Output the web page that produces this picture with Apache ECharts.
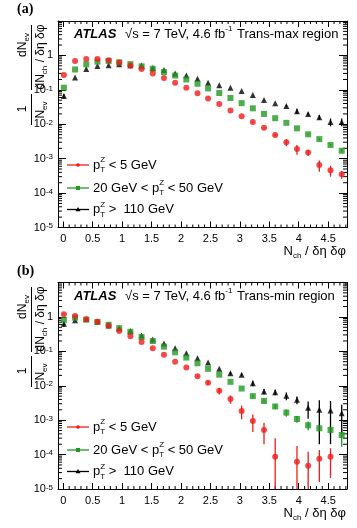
<!DOCTYPE html>
<html>
<head>
<meta charset="utf-8">
<script src="https://cdn.jsdelivr.net/npm/echarts@6/dist/echarts.min.js"></script>
<style>
  html, body { margin: 0; padding: 0; background: #fff; }
  #chart { width: 357px; height: 528px; }
</style>
</head>
<body>
<div id="chart"></div>
<script>
// N_ch / (delta eta delta phi) bin positions
const xValues = [0.01, 0.2, 0.39, 0.58, 0.77, 0.95, 1.14, 1.33, 1.52, 1.71, 1.9, 2.09, 2.28,
  2.46, 2.65, 2.84, 3.03, 3.22, 3.41, 3.6, 3.79, 3.97, 4.16, 4.35, 4.54, 4.73]

// (a) trans-max region
const maxLow = [0.27, 0.69, 0.79, 0.79, 0.72, 0.62, 0.50, 0.40, 0.30, 0.22, 0.16, 0.115, 0.079,
  0.056, 0.039, 0.025, 0.017, 0.0117, 0.0079, 0.0049, 0.0030, 0.0019, 0.0015, 0.00065, 0.00046, 0.00035]
const maxLowErr = [0, 0, 0, 0, 0, 0, 0, 0, 0, 0, 0, 0, 0,
  0, 0, 0, 0, 0.0004, 0.0005, 0.0005, 0.0007, 0.0006, 0.0003, 0.00023, 0.00016, 0.00009]
const maxMid = [0.115, 0.39, 0.55, 0.66, 0.69, 0.63, 0.56, 0.48, 0.41, 0.33, 0.26, 0.20, 0.15,
  0.11, 0.081, 0.058, 0.041, 0.029, 0.020, 0.015, 0.011, 0.0076, 0.0051, 0.0037, 0.0025, 0.0017]
const maxMidErr = [0, 0, 0, 0, 0, 0, 0, 0, 0, 0, 0, 0, 0,
  0, 0, 0, 0, 0, 0, 0, 0, 0, 0.0002, 0.0002, 0.0002, 0.0002]
const maxHigh = [0.066, 0.23, 0.40, 0.49, 0.52, 0.55, 0.52, 0.51, 0.43, 0.38, 0.30, 0.26, 0.21,
  0.16, 0.135, 0.115, 0.093, 0.071, 0.051, 0.041, 0.034, 0.024, 0.020, 0.016, 0.0117, 0.0117]
const maxHighErr = [0.01, 0, 0, 0, 0, 0, 0, 0, 0, 0, 0, 0, 0,
  0, 0, 0, 0, 0, 0, 0, 0.002, 0.004, 0.002, 0.0025, 0.003, 0.003]

// (b) trans-min region
const minLow = [1.2, 1.07, 0.85, 0.72, 0.55, 0.39, 0.275, 0.186, 0.123, 0.079, 0.050, 0.034, 0.019,
  0.0123, 0.0071, 0.0041, 0.00186, 0.00095, 0.00052, 0.000087, null, 0.000062, 0.000047, 0.000076, 0.000087, null]
const minLowErr = [0.06, 0.03, 0, 0, 0, 0, 0, 0, 0, 0, 0, 0, 0.001,
  0.0015, 0.0015, 0.0011, 0.0008, 0.0005, 0.00032, 0.00021, 0, 0.000116, 0.000073, 0.00006, 0.000066, 0]
const minMid = [0.82, 0.95, 0.83, 0.71, 0.59, 0.47, 0.37, 0.26, 0.20, 0.137, 0.094, 0.066, 0.045,
  0.031, 0.021, 0.013, 0.0083, 0.0050, 0.0036, 0.0025, 0.00166, 0.00108, 0.00071, 0.00058, 0.00052, 0.00037]
const minMidErr = [0, 0, 0, 0, 0, 0, 0, 0, 0, 0, 0, 0, 0,
  0, 0, 0, 0, 0.0004, 0.0004, 0.0004, 0.0004, 0.00024, 0.0002, 0.00013, 0.00015, 0.0002]
const minHigh = [0.63, 0.80, 0.87, 0.73, 0.56, 0.47, 0.39, 0.29, 0.22, 0.17, 0.123, 0.088, 0.063,
  0.047, 0.031, 0.023, 0.021, 0.0118, 0.0068, 0.0065, 0.0051, 0.0039, 0.0023, 0.0020, 0.0019, 0.0016]
const minHighErr = [0.12, 0, 0, 0, 0, 0, 0, 0, 0, 0, 0, 0, 0,
  0, 0, 0.002, 0.002, 0.0022, 0.0012, 0.0012, 0.0013, 0.0010, 0.0012, 0.0018, 0.0017, 0.0012]

const xMajorTicks = [0, 0.5, 1, 1.5, 2, 2.5, 3, 3.5, 4, 4.5]
const xMinorSteps = [0.1, 0.2, 0.3, 0.4]
const yDecades = [-5, -4, -3, -2, -1, 0]
const minorMantissas = [2, 3, 4, 5, 6, 7, 8, 9]

const RED = '#f21b1b'
const GREEN = '#1f9a1f'
const BLACK = '#000'
const FONT = 'Liberation Sans, Arial, sans-serif'
const X_MIN = -0.09
const X_MAX = 4.82
const Y_MIN = 1e-5
const Y_MAX = 10

const points = ys => xValues.map((x, i) => ys[i] == null ? null : [x, ys[i]]).filter(Boolean)
const bars = (ys, errs) => xValues.map((x, i) => (ys[i] == null || !errs[i]) ? null : [x, ys[i], errs[i]]).filter(Boolean)
const yMinorVals = yDecades.flatMap(d => minorMantissas.map(m => [1, m * Math.pow(10, d)]))
const xMinorVals = [-0.5, ...xMajorTicks].flatMap(t => xMinorSteps.map(s => t + s))
  .filter(v => v > X_MIN && v < X_MAX).map(v => [Math.round(v * 10) / 10, 1])

const errRender = color => (params, api) => {
  const cs = params.coordSys
  const x = api.value(0), y = api.value(1), e = api.value(2)
  const top = api.coord([x, y + e])
  const lo = y - e
  const bottom = lo > 0 ? api.coord([x, lo])[1] : cs.y + cs.height
  return {
    type: 'line',
    shape: { x1: top[0], y1: Math.max(top[1], cs.y), x2: top[0], y2: Math.min(bottom, cs.y + cs.height) },
    style: { stroke: color, lineWidth: 1.3 }
  }
}

const tickLine = (x1, y1, x2, y2) => ({ type: 'line', shape: { x1, y1, x2, y2 }, style: { stroke: '#000', lineWidth: 1 } })

const yMinorRender = (params, api) => {
  const cs = params.coordSys
  const y = api.coord([1, api.value(1)])[1]
  return { type: 'group', children: [
    tickLine(cs.x, y, cs.x + 4, y),
    tickLine(cs.x + cs.width - 4, y, cs.x + cs.width, y)
  ] }
}
const xMinorRender = (params, api) => {
  const cs = params.coordSys
  const x = api.coord([api.value(0), 1])[0]
  return { type: 'group', children: [
    tickLine(x, cs.y + cs.height, x, cs.y + cs.height - 3),
    tickLine(x, cs.y, x, cs.y + 3)
  ] }
}

const axisLine = { show: true, onZero: false, lineStyle: { color: '#000', width: 1 } }

const xAxisFor = (gridIndex, top) => ({
  type: 'value', gridIndex, position: top ? 'top' : 'bottom',
  min: X_MIN, max: X_MAX,
  axisLine,
  axisTick: { inside: true, length: 6, customValues: xMajorTicks, lineStyle: { color: '#000' } },
  splitLine: { show: false },
  axisLabel: {
    show: !top, customValues: xMajorTicks, margin: 6,
    color: '#000', fontSize: 11, fontFamily: FONT,
    formatter: v => String(v)
  }
})

const yAxisFor = (gridIndex, right) => ({
  type: 'log', logBase: 10, gridIndex, position: right ? 'right' : 'left',
  min: Y_MIN, max: Y_MAX,
  axisLine,
  axisTick: { inside: true, length: 8, lineStyle: { color: '#000' } },
  splitLine: { show: false },
  axisLabel: {
    show: !right, margin: 5, color: '#000', fontSize: 11, fontFamily: FONT,
    formatter: v => {
      const e = Math.round(Math.log10(v))
      if (Math.abs(Math.log10(v) - e) > 0.01 || e > 0) return ''
      return e === 0 ? '1' : '10{sup|' + e + '}'
    },
    rich: { sup: { fontSize: 8, verticalAlign: 'top', lineHeight: 8, fontFamily: FONT, color: '#000' } }
  }
})

const markerSeries = (xi, yi, data, symbol, color, size) => ({
  type: 'scatter', xAxisIndex: xi, yAxisIndex: yi, data, symbol, symbolSize: size,
  itemStyle: { color }, z: 3, silent: true
})
const errSeries = (xi, yi, data, color) => ({
  type: 'custom', xAxisIndex: xi, yAxisIndex: yi, data, renderItem: errRender(color), z: 2, silent: true
})
const tickSeries = (xi, yi, data, renderItem) => ({
  type: 'custom', xAxisIndex: xi, yAxisIndex: yi, data, renderItem, silent: true, clip: false
})

const rich = {
  t: { fontSize: 13, lineHeight: 18, fontFamily: FONT, color: '#000' },
  ts: { fontSize: 12, lineHeight: 16, fontFamily: FONT, color: '#000' },
  tb: { fontSize: 13, lineHeight: 18, fontFamily: FONT, color: '#000', fontWeight: 'bold', fontStyle: 'italic' },
  sub: { fontSize: 8, lineHeight: 9, verticalAlign: 'bottom', fontFamily: FONT, color: '#000' },
  sub0: { fontSize: 8, lineHeight: 9, verticalAlign: 'bottom', width: 0, fontFamily: FONT, color: '#000' },
  sup: { fontSize: 8, lineHeight: 9, verticalAlign: 'top', fontFamily: FONT, color: '#000' }
}

const txt = (x, y, text, extra, rotation) => ({
  type: 'text', x, y, rotation: rotation || 0, silent: true,
  style: Object.assign({ text, rich, font: '13px ' + FONT, fill: '#000', align: 'left', verticalAlign: 'middle' }, extra || {})
})
const vline = (x, y1, y2) => ({ type: 'line', silent: true, shape: { x1: x, y1, x2: x, y2 }, style: { stroke: '#000', lineWidth: 1 } })

const legendLabels = [
  '{t|p}{sub0|T}{sup|Z}{t| < 5 GeV}',
  '{t|20 GeV < p}{sub0|T}{sup|Z}{t| < 50 GeV}',
  '{t|p}{sub0|T}{sup|Z}{t| >  110 GeV}'
]
const legendColors = [RED, GREEN, BLACK]
const UP = Math.PI / 2

function panelGraphics(dy, label, region) {
  const g = []
  g.push(txt(17, 9 + dy, label, { font: 'bold 14px Liberation Serif, Times New Roman, serif', rich: {} }))
  g.push(txt(74, 34 + dy, '{tb|ATLAS}'))
  g.push(txt(125, 34 + dy, '{t|√s = 7 TeV, 4.6 fb}{sup|-1}'))
  g.push(txt(237, 34 + dy, '{t|' + region + '}'))
  // y-axis title (rotated fraction)
  g.push(txt(23, 45 + dy, '{ts|dN}{sub|ev}', { align: 'center' }, UP))
  g.push(vline(31.5, 25 + dy, 90 + dy))
  g.push(txt(41, 57 + dy, '{ts|dN}{sub|ch}{ts| / δη δφ}', { align: 'center' }, UP))
  g.push(txt(23, 109 + dy, '{ts|1}', { align: 'center' }, UP))
  g.push(vline(31.5, 94 + dy, 125 + dy))
  g.push(txt(41, 110 + dy, '{ts|N}{sub|ev}', { align: 'center' }, UP))
  // x-axis title
  g.push(txt(346, 251 + dy, '{t|N}{sub|ch}{t| / δη δφ}', { align: 'right' }))
  // legend
  const ly = [165, 188, 209.5]
  legendLabels.forEach((lab, i) => {
    const y = ly[i] + dy
    const c = legendColors[i]
    g.push({ type: 'line', silent: true, shape: { x1: 67, y1: y, x2: 89, y2: y }, style: { stroke: c, lineWidth: 1.3 } })
    if (i === 0) g.push({ type: 'circle', silent: true, shape: { cx: 78, cy: y, r: 1.8 }, style: { fill: c } })
    if (i === 1) g.push({ type: 'rect', silent: true, shape: { x: 76, y: y - 2, width: 4, height: 4 }, style: { fill: c } })
    if (i === 2) g.push({ type: 'polygon', silent: true, shape: { points: [[78, y - 2.5], [80.5, y + 1.8], [75.5, y + 1.8]] }, style: { fill: c } })
    g.push(txt(93, y, lab))
  })
  return g
}

const chart = echarts.init(document.getElementById('chart'), null, { renderer: 'canvas' })
chart.setOption({
  animation: false,
  backgroundColor: '#fff',
  grid: [
    { left: 58, top: 21, width: 289, height: 206.5 },
    { left: 58, top: 282.5, width: 289, height: 206.5 }
  ],
  xAxis: [xAxisFor(0, false), xAxisFor(0, true), xAxisFor(1, false), xAxisFor(1, true)],
  yAxis: [yAxisFor(0, false), yAxisFor(0, true), yAxisFor(1, false), yAxisFor(1, true)],
  series: [
    tickSeries(0, 0, yMinorVals, yMinorRender),
    tickSeries(0, 0, xMinorVals, xMinorRender),
    tickSeries(2, 2, yMinorVals, yMinorRender),
    tickSeries(2, 2, xMinorVals, xMinorRender),

    errSeries(0, 0, bars(maxLow, maxLowErr), RED),
    errSeries(0, 0, bars(maxMid, maxMidErr), GREEN),
    errSeries(0, 0, bars(maxHigh, maxHighErr), BLACK),
    markerSeries(0, 0, points(maxHigh), 'triangle', BLACK, 6),
    markerSeries(0, 0, points(maxMid), 'rect', GREEN, 6),
    markerSeries(0, 0, points(maxLow), 'circle', RED, 6),

    errSeries(2, 2, bars(minLow, minLowErr), RED),
    errSeries(2, 2, bars(minMid, minMidErr), GREEN),
    errSeries(2, 2, bars(minHigh, minHighErr), BLACK),
    markerSeries(2, 2, points(minHigh), 'triangle', BLACK, 6),
    markerSeries(2, 2, points(minMid), 'rect', GREEN, 6),
    markerSeries(2, 2, points(minLow), 'circle', RED, 6)
  ],
  graphic: [
    ...panelGraphics(0, '(a)', 'Trans-max region'),
    ...panelGraphics(262, '(b)', 'Trans-min region')
  ]
})
</script>
</body>
</html>
